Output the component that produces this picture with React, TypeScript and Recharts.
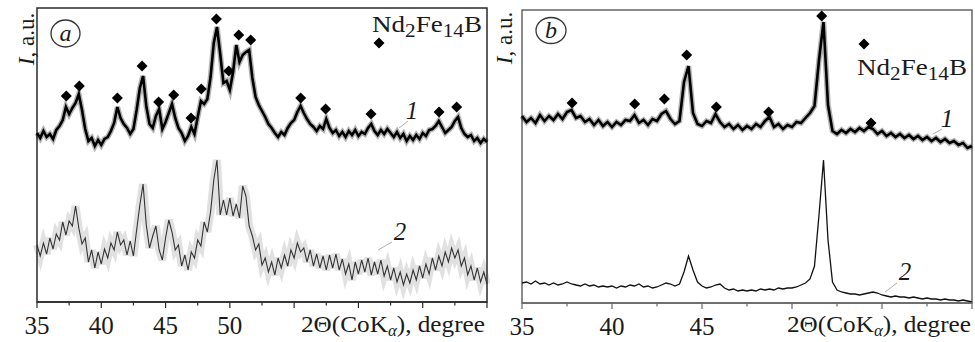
import { ComposedChart, Line, Scatter, XAxis, YAxis, ReferenceArea } from "recharts";

// diffraction scans are sampled every 0.25 degree starting at 35
const START = 35;
const STEP = 0.25;

// panel a
const ticksA = [35, 37.5, 40, 42.5, 45, 47.5, 50, 52.5, 55, 57.5, 60, 62.5, 65, 67.5, 70];
const labelsA = [35, 40, 45, 50];
const curveA1 = [
  169, 164, 171, 165, 168, 163, 172, 176, 182, 195,
  188, 194, 199, 208, 192, 173, 161, 164, 156, 162,
  157, 163, 165, 171, 179, 195, 184, 178, 174, 168,
  173, 192, 214, 226, 196, 178, 174, 186, 193, 173,
  180, 189, 198, 184, 174, 169, 161, 166, 175, 168,
  185, 201, 198, 203, 225, 259, 275, 248, 219, 221,
  212, 230, 257, 240, 247, 250, 252, 224, 205, 197,
  191, 185, 178, 174, 169, 165, 170, 167, 174, 179,
  182, 190, 196, 189, 183, 178, 175, 171, 176, 173,
  183, 174, 169, 172, 166, 170, 165, 171, 167, 172,
  166, 170, 168, 174, 178, 171, 167, 172, 168, 173,
  169, 165, 170, 164, 168, 161, 166, 162, 167, 163,
  169, 166, 172, 173, 176, 181, 175, 169, 172, 175,
  181, 185, 174, 168, 165, 167, 161, 164, 159, 163,
  160,
];
const curveA2 = [
  57, 46, 59, 48, 64, 53, 68, 62, 80, 67,
  81, 76, 96, 74, 58, 64, 40, 52, 34, 50,
  38, 53, 44, 59, 52, 70, 57, 62, 47, 61,
  46, 72, 97, 118, 77, 54, 66, 76, 52, 42,
  64, 82, 70, 52, 57, 36, 47, 32, 50, 44,
  62, 56, 80, 70, 90, 122, 142, 87, 102, 87,
  104, 86, 98, 84, 116, 106, 76, 66, 52, 58,
  37, 44, 30, 40, 27, 44, 34, 47, 36, 52,
  44, 59, 50, 54, 40, 52, 36, 48, 34, 46,
  32, 47, 34, 48, 32, 43, 28, 38, 22, 40,
  28, 42, 30, 44, 27, 40, 28, 42, 26, 36,
  22, 34, 20, 30, 17, 28, 19, 32, 22, 36,
  24, 38, 28, 44, 32, 46, 36, 50, 40, 54,
  44, 52, 36, 44, 27, 36, 22, 34, 20, 30,
  18,
];
const peakAngleA = [37.28, 38.29, 41.25, 43.17, 44.46, 45.63, 46.98, 47.78, 48.95, 49.91, 50.69, 51.62, 55.51, 57.45, 60.98, 66.27, 67.64];
const peakMarkA = [206, 216, 204, 236, 200, 207, 184, 213, 283, 231, 267, 262, 204, 193, 188, 190, 195];

// panel b
const ticksB = [35, 37.5, 40, 42.5, 45, 47.5, 50, 52.5, 55, 57.5, 60];
const labelsB = [35, 40, 45];
const curveB1 = [
  187, 181, 185, 180, 188, 182, 187, 183, 189, 184,
  191, 193, 185, 187, 181, 184, 178, 183, 177, 181,
  176, 181, 178, 183, 182, 188, 180, 183, 178, 184,
  182, 189, 192, 184, 179, 182, 221, 237, 190, 179,
  177, 182, 180, 189, 181, 176, 179, 174, 178, 173,
  177, 174, 179, 176, 182, 186, 176, 179, 174, 178,
  176, 181, 180, 185, 190, 197, 243, 281, 198, 172,
  169, 173, 170, 174, 171, 175, 172, 176, 174, 169,
  172, 167, 170, 166, 169, 165, 168, 164, 167, 163,
  166, 162, 165, 161, 164, 160, 162, 158, 160, 155,
  157,
];
const curveB2 = [
  20, 21, 19, 22, 19, 20, 18, 20, 18, 19,
  21, 19, 18, 17, 19, 17, 18, 16, 17, 16,
  17, 15, 17, 16, 18, 17, 19, 16, 17, 15,
  16, 18, 20, 19, 17, 19, 31, 47, 33, 21,
  17, 15, 16, 18, 19, 15, 13, 14, 12, 13,
  12, 13, 12, 14, 13, 14, 13, 15, 14, 15,
  15, 16, 18, 20, 24, 37, 88, 143, 63, 21,
  13, 11, 10, 9, 9, 8, 9, 10, 11, 10,
  8, 7, 6, 7, 6, 6, 5, 6, 5, 4,
  5, 4, 4, 3, 4, 3, 3, 2, 3, 2,
  1,
];
const peakAngleB = [37.78, 41.26, 42.91, 44.15, 45.8, 48.7, 51.65, 54.39];
const peakMarkB = [200, 199, 204, 248, 196, 191, 287, 180];

const FONT = "'Liberation Serif', 'Times New Roman', Times, 'DejaVu Serif', serif";
const INK = "#1a1a1a";
const txt = { fontFamily: FONT, fill: INK } as const;

const toPoints = (vals: number[]) => vals.map((y, i) => ({ x: START + i * STEP, y }));
const toPeaks = (xs: number[], ys: number[]) => xs.map((x, i) => ({ x, y: ys[i] }));

const Diamond = (props: any) => {
  const { cx, cy } = props;
  const s = 5.5;
  return <polygon points={`${cx},${cy - s} ${cx + s},${cy} ${cx},${cy + s} ${cx - s},${cy}`} fill="#000" />;
};

const makeTick = (labels: number[], color: string) => (props: any) => {
  const { x, y, payload } = props;
  const v = payload.value;
  const major = v % 5 === 0;
  return (
    <g>
      <line x1={x} x2={x} y1={y} y2={y + (major ? 6 : 3.5)} stroke={color} strokeWidth={1.2} />
      {labels.includes(v) && (
        <text x={x} y={y + 32} textAnchor="middle" fontSize={25} style={txt}>
          {v}
        </text>
      )}
    </g>
  );
};

type PanelProps = {
  left: number;
  width: number;
  margin: { top: number; right: number; left: number; bottom: number };
  axisHeight: number;
  ticks: number[];
  labels: number[];
  yMax: number;
  upper: number[];
  lower: number[];
  peaks: { x: number; y: number }[];
  frame: string;
  lowerColor: string;
  lowerHalo: number;
  lowerWidth: number;
};

const Panel = (p: PanelProps) => {
  const x0 = p.ticks[0];
  const x1 = p.ticks[p.ticks.length - 1];
  const up = toPoints(p.upper);
  const low = toPoints(p.lower);
  return (
    <div style={{ position: "absolute", left: p.left, top: 0 }}>
      <ComposedChart width={p.width} height={342} margin={p.margin}>
        <XAxis
          dataKey="x"
          type="number"
          domain={[x0, x1]}
          ticks={p.ticks}
          interval={0}
          height={p.axisHeight}
          tickSize={0}
          tickMargin={0}
          tickLine={false}
          axisLine={{ stroke: p.frame, strokeWidth: 1.5 }}
          tick={makeTick(p.labels, p.frame)}
        />
        <YAxis dataKey="y" type="number" hide domain={[0, p.yMax]} allowDataOverflow />
        <ReferenceArea x1={x0} x2={x1} y1={0} y2={p.yMax} fill="none" stroke={p.frame} strokeWidth={1.5} />
        {/* noise band + trace for the lower scan */}
        {p.lowerHalo > 0 && (
          <Line data={low} dataKey="y" stroke={p.lowerColor} strokeOpacity={0.15} strokeWidth={p.lowerHalo}
            dot={false} isAnimationActive={false} />
        )}
        <Line data={low} dataKey="y" stroke={p.lowerColor} strokeWidth={p.lowerWidth}
          dot={false} isAnimationActive={false} />
        {/* noise band + trace for the upper scan */}
        <Line data={up} dataKey="y" stroke="#000" strokeOpacity={0.3} strokeWidth={5.5}
          dot={false} isAnimationActive={false} />
        <Line data={up} dataKey="y" stroke="#000" strokeWidth={2.6}
          dot={false} isAnimationActive={false} />
        <Scatter data={p.peaks} dataKey="y" shape={Diamond} isAnimationActive={false} />
      </ComposedChart>
    </div>
  );
};

const Formula = ({ x, y }: { x: number; y: number }) => (
  <text x={x} y={y} fontSize={23} style={txt} textLength={110} lengthAdjust="spacingAndGlyphs">
    Nd<tspan fontSize={18} dy={5}>2</tspan>
    <tspan dy={-5}>Fe</tspan>
    <tspan fontSize={18} dy={5}>14</tspan>
    <tspan dy={-5}>B</tspan>
  </text>
);

const AxisTitle = ({ x }: { x: number }) => (
  <text x={x} y={332} fontSize={24} style={txt} textLength={184} lengthAdjust="spacingAndGlyphs">
    2Θ(CoK<tspan fontSize={16} dy={4} fontStyle="italic">α</tspan>
    <tspan dy={-4}>), degree</tspan>
  </text>
);

const Overlay = () => (
  <svg width={975} height={342} style={{ position: "absolute", left: 0, top: 0, pointerEvents: "none" }}>
    {/* y labels */}
    <text transform="translate(34,39) rotate(-90)" textAnchor="middle" fontSize={23} style={txt}>
      <tspan fontStyle="italic">I</tspan>, a.u.
    </text>
    <text transform="translate(512,38) rotate(-90)" textAnchor="middle" fontSize={23} style={txt}>
      <tspan fontStyle="italic">I</tspan>, a.u.
    </text>

    {/* panel letters */}
    <ellipse cx={65.5} cy={33.5} rx={14.5} ry={13.5} fill="none" stroke="#333" strokeWidth={1.3} />
    <text x={65.5} y={41} textAnchor="middle" fontSize={24} fontStyle="italic" style={txt}>a</text>
    <ellipse cx={551} cy={30.5} rx={15} ry={13} fill="none" stroke="#333" strokeWidth={1.3} />
    <text x={551} y={38} textAnchor="middle" fontSize={24} fontStyle="italic" style={txt}>b</text>

    {/* legends */}
    <Formula x={372} y={32} />
    <polygon points="379,37.5 384.5,43 379,48.5 373.5,43" fill="#000" />
    <Formula x={857} y={75} />
    <polygon points="864,38.5 869.5,44 864,49.5 858.5,44" fill="#000" />

    {/* curve numbers */}
    <text x={412} y={119} textAnchor="middle" fontSize={25} fontStyle="italic" style={txt}>1</text>
    <line x1={408} y1={121} x2={399} y2={128} stroke="#999" strokeWidth={0.8} />
    <text x={400} y={240} textAnchor="middle" fontSize={25} fontStyle="italic" style={txt}>2</text>
    <line x1={392} y1={242} x2={378} y2={250} stroke="#999" strokeWidth={0.8} />
    <text x={947} y={127} textAnchor="middle" fontSize={25} fontStyle="italic" style={txt}>1</text>
    <line x1={942} y1={129} x2={933} y2={134} stroke="#999" strokeWidth={0.8} />
    <text x={905} y={280} textAnchor="middle" fontSize={25} fontStyle="italic" style={txt}>2</text>
    <line x1={897} y1={283} x2={885} y2={292} stroke="#999" strokeWidth={0.8} />

    {/* axis titles */}
    <AxisTitle x={301} />
    <AxisTitle x={787} />
  </svg>
);

export default function App() {
  return (
    <div style={{ position: "absolute", left: 0, top: 0, width: 975, height: 342, background: "#fff" }}>
      <Panel
        left={0}
        width={490}
        margin={{ top: 8, right: 3, left: 37, bottom: 0 }}
        axisHeight={40}
        ticks={ticksA}
        labels={labelsA}
        yMax={294}
        upper={curveA1}
        lower={curveA2}
        peaks={toPeaks(peakAngleA, peakMarkA)}
        frame="#2a2a2a"
        lowerColor="#333"
        lowerHalo={8}
        lowerWidth={1.1}
      />
      <Panel
        left={490}
        width={485}
        margin={{ top: 10, right: 3, left: 32, bottom: 0 }}
        axisHeight={39}
        ticks={ticksB}
        labels={labelsB}
        yMax={293}
        upper={curveB1}
        lower={curveB2}
        peaks={toPeaks(peakAngleB, peakMarkB)}
        frame="#666"
        lowerColor="#111"
        lowerHalo={0}
        lowerWidth={1.3}
      />
      <Overlay />
    </div>
  );
}
